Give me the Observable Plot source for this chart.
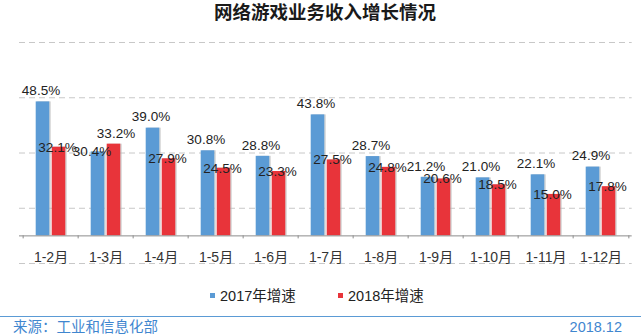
<!DOCTYPE html>
<html>
<head>
<meta charset="utf-8">
<script src="https://cdn.jsdelivr.net/npm/d3@7"></script>
<script src="https://cdn.jsdelivr.net/npm/@observablehq/plot@0.6"></script>
<style>
  html, body { margin: 0; padding: 0; background: #fff; }
  #wrap { position: relative; width: 641px; height: 336px; overflow: hidden;
    font-family: "Liberation Sans", Arial, "Noto Sans CJK SC", sans-serif; }
  #chart { position: absolute; left: 0; top: 0; }
  .ov { position: absolute; white-space: nowrap; z-index: 2; }
  #title { left: 0; width: 650px; top: 2px; text-align: center; font-size: 18.5px; font-weight: bold; color: #1a1a1a; line-height: 22px; }
  .leg { top: 287px; font-size: 14.5px; color: #222; line-height: 18px; }
  .sw { display: inline-block; width: 5px; height: 5px; margin-right: 5px; vertical-align: 3px; }
  #line { left: 0; top: 316px; width: 641px; height: 0; border-top: 1.5px solid #5b9bd5; }
  .foot { top: 318px; font-size: 14.5px; color: #3f86cf; line-height: 18px; }
</style>
</head>
<body>
<div id="wrap">
  <div id="chart"></div>
  <div id="title" class="ov"></div>
  <div id="leg1" class="ov leg" style="left:210px"></div>
  <div id="leg2" class="ov leg" style="left:338px"></div>
  <div id="line" class="ov"></div>
  <div id="src" class="ov foot" style="left:13px"></div>
  <div id="date" class="ov foot" style="right:19px"></div>
</div>
<script>
const title = "网络游戏业务收入增长情况";
const categories = ["1-2月","1-3月","1-4月","1-5月","1-6月","1-7月","1-8月","1-9月","1-10月","1-11月","1-12月"];
const series = ["2017年增速", "2018年增速"];
const values2017 = [48.5, 30.4, 39.0, 30.8, 28.8, 43.8, 28.7, 21.2, 21.0, 22.1, 24.9];
const values2018 = [32.1, 33.2, 27.9, 24.5, 23.3, 27.5, 24.8, 20.6, 18.5, 15.0, 17.8];
const gridTicks = [-10, 10, 30, 50, 70];
const source = "来源：工业和信息化部";
const dateText = "2018.12";

const colors = ["#5b9bd5", "#e8343a"];
const W = 641, H = 336;
const mL = 19, mR = 9.3, mT = 42, mB = 73;
const yDomain = [-10, 70];
const bw = (W - mL - mR) / categories.length;
const barW = 14.3, outer = 12.7;
const innerH = H - mT - mB;
const unitsPerPx = (yDomain[1] - yDomain[0]) / innerH;
const tickLen = 3;

const d17 = categories.map((c, i) => ({cat: c, v: values2017[i], other: values2018[i]}));
const d18 = categories.map((c, i) => ({cat: c, v: values2018[i], other: values2017[i]}));
const fmt = d => d.v.toFixed(1) + "%";
const font = '"Liberation Sans", Arial, "Noto Sans CJK SC", sans-serif';

// label placement: the taller bar of each pair gets its label above, the shorter one on its top edge
const lab17 = d17.filter(d => d.v >= d.other), lab17b = d17.filter(d => d.v < d.other);
const lab18 = d18.filter(d => d.v > d.other), lab18b = d18.filter(d => d.v <= d.other);

const tickOpts = dx => ({x: d => d, y1: () => 0, y2: () => -tickLen * unitsPerPx, dx, stroke: "#8c8c8c", strokeWidth: 1});

const plot = Plot.plot({
  width: W, height: H,
  marginLeft: mL, marginRight: mR, marginTop: mT, marginBottom: mB,
  style: {fontFamily: font, background: "transparent"},
  x: {type: "band", domain: categories, padding: 0, axis: null},
  y: {domain: yDomain, axis: null},
  marks: [
    Plot.ruleY(gridTicks, {stroke: "#c8c8c8", strokeDasharray: "6,4", strokeWidth: 1}),
    Plot.barY(d17, {x: "cat", y: "v", fill: "#bdbdbd", fillOpacity: 0.6, insetLeft: outer + 1.5, insetRight: bw - outer - barW - 1.5}),
    Plot.barY(d18, {x: "cat", y: "v", fill: "#bdbdbd", fillOpacity: 0.6, insetLeft: bw - outer - barW + 1.5, insetRight: outer - 1.5}),
    Plot.barY(d17, {x: "cat", y: "v", fill: colors[0], insetLeft: outer, insetRight: bw - outer - barW}),
    Plot.barY(d18, {x: "cat", y: "v", fill: colors[1], insetLeft: bw - outer - barW, insetRight: outer}),
    Plot.ruleY([0], {stroke: "#8c8c8c", strokeWidth: 1}),
    Plot.ruleX(categories, tickOpts(-bw / 2)),
    Plot.ruleX(categories.slice(-1), tickOpts(bw / 2)),
    Plot.text(lab17, {x: "cat", y: "v", text: fmt, dx: -10, dy: -11, lineAnchor: "middle", fontSize: 13.5, fill: "#222"}),
    Plot.text(lab17b, {x: "cat", y: "v", text: fmt, dx: -14, dy: 0, lineAnchor: "middle", fontSize: 13.5, fill: "#222"}),
    Plot.text(lab18, {x: "cat", y: "v", text: fmt, dx: 10, dy: -10, lineAnchor: "middle", fontSize: 13.5, fill: "#222"}),
    Plot.text(lab18b, {x: "cat", y: "v", text: fmt, dx: 6.5, dy: 0, lineAnchor: "middle", fontSize: 13.5, fill: "#222"}),
    Plot.text(categories, {x: d => d, text: d => d, frameAnchor: "bottom", dy: -5.5, lineAnchor: "middle", fontSize: 14, fill: "#333"})
  ]
});
document.getElementById("chart").appendChild(plot);

document.getElementById("title").textContent = title;
document.getElementById("leg1").innerHTML = `<span class="sw" style="background:${colors[0]}"></span>${series[0]}`;
document.getElementById("leg2").innerHTML = `<span class="sw" style="background:${colors[1]}"></span>${series[1]}`;
document.getElementById("src").textContent = source;
document.getElementById("date").textContent = dateText;
</script>
</body>
</html>
